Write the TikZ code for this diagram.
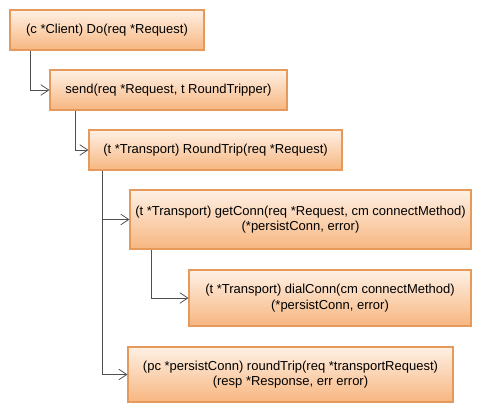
\documentclass[tikz,border=0pt]{standalone}
\usepackage{fontspec}
\setmainfont{Liberation Sans}
\usetikzlibrary{arrows.meta}
\definecolor{boxtop}{HTML}{FEF0E4}
\definecolor{boxbot}{HTML}{F7B680}
\definecolor{boxline}{HTML}{E59A5C}
\definecolor{conn}{HTML}{505050}
\begin{document}
\begin{tikzpicture}[x=0.75pt,y=-0.75pt,
  fn/.style={draw=boxline, line width=0.8pt, top color=boxtop, bottom color=boxbot,
    rectangle, inner sep=0pt, align=center, font=\fontsize{9.75}{11.5}\selectfont},
  link/.style={draw=conn, line width=0.6pt, -{Straight Barb[length=6pt,width=8pt,line width=0.6pt]}}]
\useasboundingbox (0,0) rectangle (481,413);
\node[fn, minimum width=194*0.75pt, minimum height=40*0.75pt] (n1) at (107,30) {(c *Client) Do(req *Request)};
\node[fn, minimum width=237*0.75pt, minimum height=40*0.75pt] (n2) at (168.5,90) {send(req *Request, t RoundTripper)};
\node[fn, minimum width=253*0.75pt, minimum height=40*0.75pt] (n3) at (215.5,150) {(t *Transport) RoundTrip(req *Request)};
\node[fn, minimum width=341*0.75pt, minimum height=59*0.75pt] (n4) at (300.5,219.5) {(t *Transport) getConn(req *Request, cm connectMethod)\\(*persistConn, error)};
\node[fn, minimum width=282*0.75pt, minimum height=56*0.75pt] (n5) at (330,298) {(t *Transport) dialConn(cm connectMethod)\\(*persistConn, error)};
\node[fn, minimum width=325*0.75pt, minimum height=55*0.75pt] (n6) at (290.5,374.5) {(pc *persistConn) roundTrip(req *transportRequest)\\(resp *Response, err error)};
\draw[link] (n1.south -| 30,0) |- (n2.west);
\draw[link] (n2.south -| 75,0) |- (n3.west);
\draw[link] (n3.south -| 102,0) |- (n4.west);
\draw[link] (n3.south -| 102,0) |- (n6.west);
\draw[link] (n4.south -| 151,0) |- (n5.west);
\end{tikzpicture}
\end{document}
